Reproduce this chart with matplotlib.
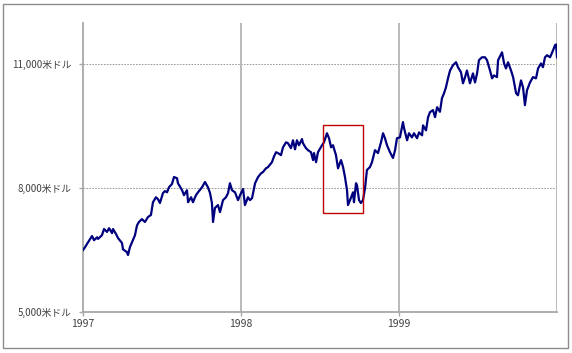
import matplotlib
matplotlib.use("Agg")
import matplotlib.pyplot as plt
from matplotlib.patches import Rectangle

plt.rcParams['font.family'] = ['Noto Sans CJK JP', 'DejaVu Sans']

# years since start of 1997 (weekly-ish readings)
t_year = [
    0.000, 0.013, 0.032, 0.057, 0.070, 0.089, 0.095, 0.120, 0.133, 0.152,
    0.165, 0.184, 0.190, 0.209, 0.222, 0.247, 0.253, 0.278, 0.285, 0.297,
    0.316, 0.329, 0.342, 0.354, 0.373, 0.392, 0.411, 0.430, 0.443, 0.462,
    0.475, 0.487, 0.506, 0.519, 0.532, 0.544, 0.563, 0.576, 0.595, 0.601,
    0.627, 0.639, 0.658, 0.665, 0.684, 0.696, 0.715, 0.728, 0.753, 0.772,
    0.791, 0.804, 0.816, 0.823, 0.835, 0.854, 0.867, 0.886, 0.905, 0.918,
    0.930, 0.943, 0.962, 0.981, 0.994, 1.013, 1.025, 1.044, 1.057, 1.070,
    1.089, 1.108, 1.127, 1.139, 1.158, 1.171, 1.196, 1.209, 1.222, 1.234,
    1.253, 1.266, 1.285, 1.297, 1.316, 1.329, 1.342, 1.354, 1.367, 1.386,
    1.392, 1.411, 1.424, 1.443, 1.456, 1.462, 1.475, 1.487, 1.513, 1.525,
    1.544, 1.557, 1.570, 1.582, 1.601, 1.614, 1.633, 1.646, 1.658, 1.671,
    1.677, 1.690, 1.709, 1.715, 1.728, 1.734, 1.747, 1.759, 1.772, 1.785,
    1.797, 1.816, 1.829, 1.848, 1.867, 1.886, 1.899, 1.911, 1.924, 1.943,
    1.962, 1.975, 1.987, 2.006, 2.025, 2.032, 2.051, 2.063, 2.082, 2.095,
    2.114, 2.127, 2.146, 2.152, 2.171, 2.184, 2.196, 2.215, 2.228, 2.241,
    2.259, 2.272, 2.285, 2.297, 2.310, 2.323, 2.342, 2.361, 2.373, 2.392,
    2.405, 2.418, 2.430, 2.449, 2.468, 2.481, 2.494, 2.506, 2.525, 2.544,
    2.557, 2.576, 2.589, 2.601, 2.620, 2.627, 2.652, 2.665, 2.677, 2.690,
    2.709, 2.722, 2.741, 2.753, 2.772, 2.785, 2.797, 2.810, 2.829, 2.848,
    2.867, 2.880, 2.899, 2.911, 2.924, 2.937, 2.956, 2.975, 2.987, 2.994,
    3.000,
]

# index level in USD
dow = [
    6500, 6570, 6690, 6840, 6740, 6810, 6770, 6860, 7010, 6940,
    7030, 6910, 7010, 6890, 6790, 6670, 6520, 6450, 6380, 6570,
    6740, 6860, 7100, 7180, 7250, 7180, 7300, 7350, 7660, 7780,
    7730, 7640, 7880, 7930, 7900, 8020, 8100, 8270, 8240, 8120,
    7950, 7830, 7950, 7660, 7780, 7660, 7830, 7900, 8020, 8150,
    8020, 7880, 7640, 7180, 7520, 7590, 7420, 7710, 7780, 7880,
    8120, 7950, 7900, 7710, 7830, 7980, 7590, 7780, 7710, 7760,
    8120, 8270, 8360, 8390, 8480, 8510, 8630, 8770, 8870, 8850,
    8800, 8990, 9110, 9090, 8970, 9160, 8940, 9160, 9040, 9190,
    9090, 8970, 8920, 8870, 8680, 8850, 8630, 8870, 9040, 9110,
    9330, 9210, 8990, 9040, 8800, 8480, 8680, 8510, 8270, 7950,
    7590, 7710, 7900, 7660, 8120, 8070, 7710, 7640, 7710, 8000,
    8440, 8510, 8630, 8920, 8850, 9110, 9330, 9210, 9040, 8870,
    8730, 8920, 9210, 9230, 9600, 9450, 9160, 9330, 9230, 9330,
    9210, 9350, 9280, 9520, 9400, 9720, 9840, 9890, 9720, 9960,
    9850, 10180, 10300, 10440, 10660, 10850, 10980, 11050, 10930, 10810,
    10540, 10690, 10850, 10540, 10780, 10560, 10780, 11100, 11170, 11170,
    11100, 10850, 10660, 10730, 10690, 11100, 11290, 11020, 10900, 11050,
    10850, 10690, 10300, 10250, 10610, 10440, 10010, 10370, 10560, 10690,
    10660, 10900, 11020, 10930, 11170, 11220, 11170, 11340, 11460, 11480,
    11170,
]

start_year = 1997
year_ticks = [1997, 1998, 1999]
y_ticks = [5000, 8000, 11000]
y_labels = ["5,000米ドル", "8,000米ドル", "11,000米ドル"]
# highlighted period (Aug-Oct 1998)
box_x = (1998.52, 1998.77)
box_y = (7395, 9524)

x = [start_year + t for t in t_year]

fig = plt.figure(figsize=(5.72, 3.53), dpi=100)
ax = fig.add_axes([0.1451, 0.1161, 0.8287, 0.8187])

# outer frame
fig.patches.append(Rectangle((3 / 572, 5 / 353), 565 / 572, 344 / 353,
                             transform=fig.transFigure, fill=False,
                             edgecolor="#8c8c8c", linewidth=1.0))

ax.set_xlim(1997, 2000)
ax.set_ylim(5000, 12000)

for yv in y_ticks[1:]:
    ax.axhline(yv, color="#8c8c8c", linestyle=(0, (2, 1.5)), linewidth=0.6, zorder=1)
for xv in [1998, 1999, 2000]:
    ax.axvline(xv, color="#b4b4b4", linewidth=1.3, zorder=1)

ax.plot(x, dow, color="#00007f", linewidth=1.6, zorder=3)

ax.add_patch(Rectangle((box_x[0], box_y[0]), box_x[1] - box_x[0], box_y[1] - box_y[0],
                       fill=False, edgecolor="#c00000", linewidth=1.0, zorder=4))

for side in ["top", "right"]:
    ax.spines[side].set_visible(False)
for side in ["left", "bottom"]:
    ax.spines[side].set_color("#a8a8a8")
    ax.spines[side].set_linewidth(1.3)

ax.set_yticks(y_ticks)
ax.set_yticklabels(y_labels)
ax.set_xticks(year_ticks)
ax.set_xticklabels([str(y) for y in year_ticks])
ax.tick_params(axis="both", colors="#a8a8a8", labelcolor="#404040",
               labelsize=7, length=3, width=1)
ax.tick_params(axis="y", pad=5)
ax.tick_params(axis="x", pad=2, labelsize=7.5)

fig.savefig("out.png", dpi=100)
